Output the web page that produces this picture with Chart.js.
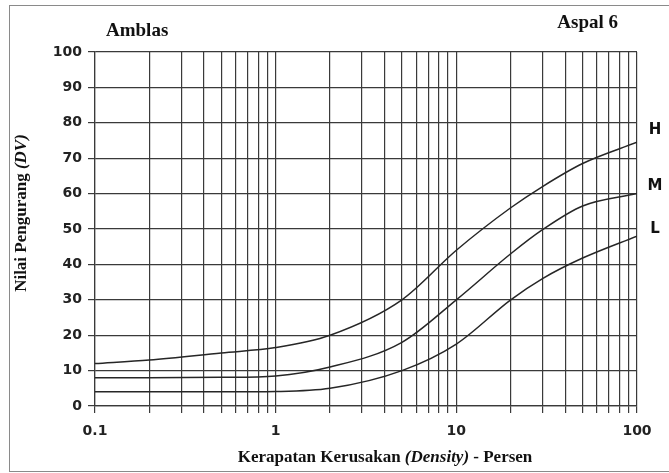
<!DOCTYPE html>
<html>
<head>
<meta charset="utf-8">
<script src="https://cdn.jsdelivr.net/npm/chart.js@4/dist/chart.umd.min.js"></script>
<style>
    html, body { margin: 0; padding: 0; background: #fff; }
    #wrap { width: 669px; height: 473px; }
</style>
</head>
<body>
<div id="wrap"><canvas id="dvChart" width="669" height="473"></canvas></div>
<script>
// Deduct value curves for "Amblas" (depression), density in percent
const densityH = [0.1, 0.2, 0.5, 1, 2, 5, 10, 20, 30, 50, 100];
const valuesH  = [12, 13, 15, 16.5, 20, 30, 44, 56, 62, 68.5, 74.5];

const densityM = [0.1, 0.2, 0.5, 1, 2, 5, 10, 20, 30, 50, 100];
const valuesM  = [8, 8, 8.1, 8.5, 11, 18, 30, 43, 49.8, 56.5, 60];

const densityL = [0.1, 0.2, 0.5, 1, 2, 5, 10, 20, 30, 50, 100];
const valuesL  = [4, 4, 4, 4.1, 5, 10, 17.5, 30, 36, 41.8, 48];

// Severity labels at the right of the plot, and the DV level each sits at
const severityNames  = ['H', 'M', 'L'];
const severityLevels = [78, 62, 50];

// Log grid positions and the labelled decades
const xGridValues = [0.1, 0.2, 0.3, 0.4, 0.5, 0.6, 0.7, 0.8, 0.9,
                     1, 2, 3, 4, 5, 6, 7, 8, 9,
                     10, 20, 30, 40, 50, 60, 70, 80, 90, 100];
const xTickLabels = ['0.1', '1', '10', '100'];

const ink = '#262626';
const gridInk = '#3a3a3a';

const toPoints = (xs, ys) => xs.map((x, i) => ({ x: x, y: ys[i] }));

const curve = (label, xs, ys) => ({
    label: label,
    data: toPoints(xs, ys),
    borderColor: ink,
    borderWidth: 1.5,
    pointRadius: 0,
    fill: false,
    cubicInterpolationMode: 'monotone'
});

// Draws a line of text made of plain and italic runs, centred on (cx, cy)
function drawRuns(ctx, runs, cx, cy, size) {
    const fontFor = (r) => (r.italic ? 'italic ' : '') + 'bold ' + size + 'px "Liberation Serif", "Times New Roman", serif';
    let total = 0;
    runs.forEach(r => { ctx.font = fontFor(r); total += ctx.measureText(r.text).width; });
    let x = cx - total / 2;
    runs.forEach(r => {
        ctx.font = fontFor(r);
        ctx.fillText(r.text, x, cy);
        x += ctx.measureText(r.text).width;
    });
}

const decorations = {
    id: 'decorations',
    beforeDraw(chart) {
        const ctx = chart.ctx;
        ctx.save();
        ctx.fillStyle = '#fff';
        ctx.fillRect(0, 0, chart.width, chart.height);
        ctx.strokeStyle = '#8a8a8a';
        ctx.lineWidth = 1;
        ctx.strokeRect(9.5, 5.5, chart.width, chart.height - 7);
        ctx.restore();
    },
    afterDraw(chart) {
        const ctx = chart.ctx;
        const area = chart.chartArea;
        const yScale = chart.scales.y;
        ctx.save();
        ctx.fillStyle = '#111';
        ctx.textBaseline = 'alphabetic';

        ctx.font = 'bold 19px "Liberation Serif", "Times New Roman", serif';
        ctx.textAlign = 'left';
        ctx.fillText('Amblas', 106, 36);
        ctx.textAlign = 'right';
        ctx.fillText('Aspal 6', 618, 28);

        ctx.textAlign = 'left';
        ctx.textBaseline = 'middle';
        drawRuns(ctx, [
            { text: 'Kerapatan Kerusakan ' },
            { text: '(Density)', italic: true },
            { text: ' - Persen' }
        ], 385, 458, 17);

        ctx.save();
        ctx.translate(22, 213);
        ctx.rotate(-Math.PI / 2);
        drawRuns(ctx, [
            { text: 'Nilai Pengurang ' },
            { text: '(DV)', italic: true }
        ], 0, 0, 17);
        ctx.restore();

        ctx.font = 'bold 15px "DejaVu Sans", sans-serif';
        ctx.textAlign = 'center';
        severityNames.forEach((name, i) => {
            ctx.fillText(name, area.right + 18, yScale.getPixelForValue(severityLevels[i]));
        });
        ctx.restore();
    }
};

new Chart(document.getElementById('dvChart'), {
    type: 'line',
    data: {
        datasets: [
            curve('H', densityH, valuesH),
            curve('M', densityM, valuesM),
            curve('L', densityL, valuesL)
        ]
    },
    options: {
        responsive: false,
        animation: false,
        layout: { padding: { top: 52, right: 32, left: 0, bottom: 0 } },
        plugins: {
            legend: { display: false },
            tooltip: { enabled: false }
        },
        scales: {
            x: {
                type: 'logarithmic',
                min: 0.1,
                max: 100,
                afterBuildTicks: (scale) => {
                    scale.ticks = xGridValues.map(v => ({ value: v }));
                },
                afterFit: (scale) => { scale.height = 67; },
                grid: { color: gridInk, lineWidth: 1.2, tickLength: 7 },
                border: { color: gridInk, width: 1.2 },
                ticks: {
                    autoSkip: false,
                    maxRotation: 0,
                    padding: 10,
                    color: '#222',
                    font: { family: '"DejaVu Sans", sans-serif', size: 14, weight: 'bold' },
                    callback: (value) => {
                        const hit = xTickLabels.find(t => Math.abs(Number(t) - value) < 1e-9);
                        return hit || '';
                    }
                }
            },
            y: {
                min: 0,
                max: 100,
                afterFit: (scale) => { scale.width = 95; },
                grid: { color: gridInk, lineWidth: 1.2, tickLength: 7 },
                border: { color: gridInk, width: 1.2 },
                ticks: {
                    stepSize: 10,
                    padding: 6,
                    color: '#222',
                    font: { family: '"DejaVu Sans", sans-serif', size: 14, weight: 'bold' }
                }
            }
        }
    },
    plugins: [decorations]
});
</script>
</body>
</html>
